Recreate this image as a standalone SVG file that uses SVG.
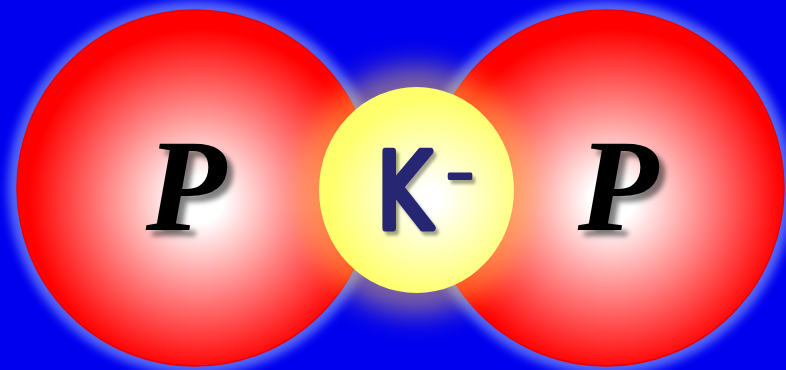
<svg xmlns="http://www.w3.org/2000/svg" width="786" height="370" viewBox="0 0 786 370">
  <defs>
    <radialGradient id="redL" gradientUnits="userSpaceOnUse" cx="200" cy="200" r="190">
      <stop offset="0" stop-color="#ffffff"/>
      <stop offset="0.12" stop-color="#ffffff"/>
      <stop offset="0.9" stop-color="#ff0000"/>
      <stop offset="1" stop-color="#ff0000"/>
    </radialGradient>
    <radialGradient id="redR" gradientUnits="userSpaceOnUse" cx="612" cy="200" r="190">
      <stop offset="0" stop-color="#ffffff"/>
      <stop offset="0.12" stop-color="#ffffff"/>
      <stop offset="0.9" stop-color="#ff0000"/>
      <stop offset="1" stop-color="#ff0000"/>
    </radialGradient>
    <radialGradient id="yel" gradientUnits="userSpaceOnUse" cx="430" cy="198" r="110">
      <stop offset="0" stop-color="#ffffff"/>
      <stop offset="0.1" stop-color="#ffffff"/>
      <stop offset="0.9" stop-color="#ffff6c"/>
      <stop offset="1" stop-color="#ffff6c"/>
    </radialGradient>
    <filter id="halo" x="-20%" y="-20%" width="140%" height="140%">
      <feGaussianBlur stdDeviation="5"/>
    </filter>
    <filter id="glow" x="-40%" y="-40%" width="180%" height="180%">
      <feGaussianBlur stdDeviation="14"/>
    </filter>
    <filter id="dsP" x="-30%" y="-30%" width="160%" height="160%">
      <feGaussianBlur in="SourceAlpha" stdDeviation="2.5"/>
      <feOffset dx="6" dy="6"/>
      <feComponentTransfer><feFuncA type="linear" slope="0.5"/></feComponentTransfer>
      <feMerge><feMergeNode/><feMergeNode in="SourceGraphic"/></feMerge>
    </filter>
    <filter id="dsK" x="-30%" y="-30%" width="160%" height="160%">
      <feGaussianBlur in="SourceAlpha" stdDeviation="1.8"/>
      <feOffset dx="4" dy="4"/>
      <feComponentTransfer><feFuncA type="linear" slope="0.35"/></feComponentTransfer>
      <feMerge><feMergeNode/><feMergeNode in="SourceGraphic"/></feMerge>
    </filter>
  </defs>
  <style>
    .pText { font-family: "Liberation Serif", "Times New Roman", serif; font-weight: bold; font-style: italic; font-size: 132px; fill: #000; }
    .kText { font-family: "DejaVu Sans", "Liberation Sans", sans-serif; font-size: 106px; fill: #262673; stroke: #262673; stroke-width: 7; stroke-linejoin: round; stroke-linecap: round; }
    .minus { font-size: 44px; stroke-width: 4; }
  </style>
  <rect width="786" height="370" fill="#0000ee"/>

  <g id="halos">
    <circle cx="195" cy="188" r="187" fill="#5566f8" filter="url(#halo)"/>
    <circle cx="606" cy="188" r="187" fill="#5566f8" filter="url(#halo)"/>
  </g>

  <g id="atom-left">
    <circle cx="195" cy="188" r="178" fill="url(#redL)" stroke="#e80000" stroke-width="1.5"/>
    <text class="pText" x="186" y="230" text-anchor="middle" filter="url(#dsP)">P</text>
  </g>

  <g id="atom-right">
    <circle cx="606" cy="188" r="178" fill="url(#redR)" stroke="#e80000" stroke-width="1.5"/>
    <text class="pText" x="618" y="230" text-anchor="middle" filter="url(#dsP)">P</text>
  </g>

  <g id="ion-center">
    <ellipse cx="416.5" cy="190" rx="117" ry="124" fill="#ffc850" opacity="0.5" filter="url(#glow)"/>
    <ellipse cx="416.5" cy="190" rx="97.5" ry="103" fill="url(#yel)"/>
    <g transform="translate(377,228) scale(0.78,1)" filter="url(#dsK)">
      <text class="kText" x="0" y="0">K<tspan class="minus" x="88" y="-38">−</tspan></text>
    </g>
  </g>
</svg>
